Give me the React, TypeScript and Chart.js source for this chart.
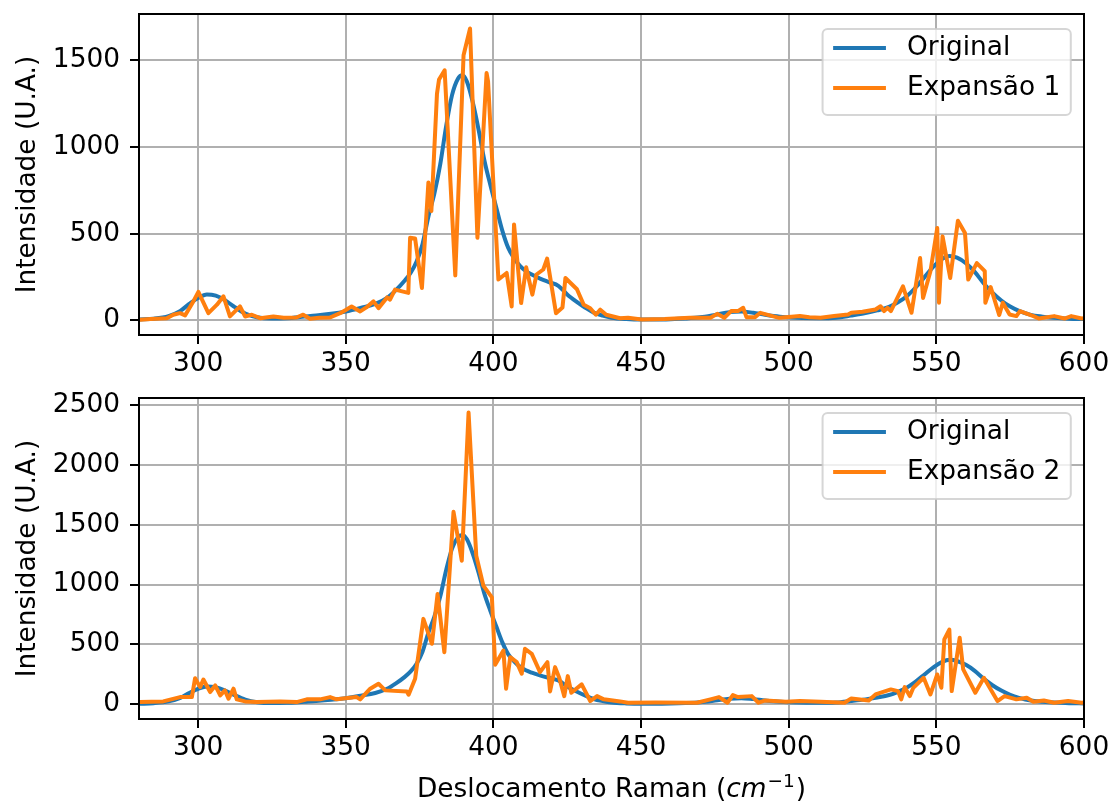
import React, { useEffect, useRef } from 'react';
import { Chart, registerables } from 'chart.js';

Chart.register(...registerables);

const FONT = '"DejaVu Sans", "Liberation Sans", sans-serif';
const FS = 26.4;

// Axis ticks
const xTicks = [300, 350, 400, 450, 500, 550, 600];
const yTicksTop = [0, 500, 1000, 1500];
const yTicksBottom = [0, 500, 1000, 1500, 2000, 2500];

// Labels
const yTitle = 'Intensidade (U.A.)';
const xTitleMain = 'Deslocamento Raman (';
const xTitleUnit = 'cm';
const xTitleExp = '−1';
const xTitleEnd = ')';
const legendTop = ['Original', 'Expansão 1'];
const legendBottom = ['Original', 'Expansão 2'];

// Original spectrum (blue)
const origX = [280, 285, 290, 294, 297, 300, 303, 306, 309, 312, 316, 320, 325, 330, 336, 340, 345, 350, 355, 360,
  364, 367, 370, 372, 374, 376, 378, 380, 382, 384, 386, 388, 389.5, 391, 393, 395, 397, 399, 401, 403,
  405, 407, 409, 411, 413, 416, 419, 422, 425, 428, 431, 434, 437, 440, 445, 450, 455, 460, 465, 470,
  475, 480, 484, 488, 492, 497, 503, 510, 516, 521, 526, 530, 534, 537, 540, 543, 546, 549, 552, 554.5,
  557, 560, 563, 566, 569, 572, 575, 578, 582, 586, 590, 595, 600];
const origY = [5, 10, 25, 55, 95, 130, 150, 143, 118, 82, 40, 18, 11, 13, 22, 28, 38, 52, 72, 95,
  130, 175, 230, 275, 340, 440, 600, 730, 900, 1120, 1300, 1395, 1415, 1380, 1260, 1100, 920, 780, 650, 520,
  420, 360, 315, 285, 265, 240, 220, 200, 150, 110, 75, 45, 28, 16, 8, 5, 5, 7, 11, 18,
  32, 48, 52, 44, 33, 22, 15, 13, 16, 28, 42, 58, 78, 105, 140, 190, 250, 310, 355, 372,
  362, 330, 280, 215, 160, 115, 80, 55, 32, 22, 15, 10, 8];

// Expansion 1 (orange, top)
const exp1X = [280.3, 284, 289.4, 291.6, 293.9, 295.6, 298.4, 300.1, 303.5, 306.4, 308.6, 310.8, 314.2, 315.9, 318.2, 321, 325.5, 329, 333.3, 335.6,
  337.9, 341, 344.7, 348.1, 350, 352, 354.9, 357, 359.4, 361.1, 364, 365, 366.7, 371.2, 371.8, 373.5, 375.8, 378, 379, 380.9,
  381.6, 383.5, 387.1, 389.9, 392.1, 394.6, 397.7, 398.2, 401.7, 404.5, 406.2, 407, 409.4, 411.1, 413.2, 414.6, 416.9, 418.2, 421.2, 423.4,
  424.4, 428.3, 430.6, 432.8, 434.7, 436.2, 438.2, 442.9, 445.6, 450.2, 458, 466.5, 473.5, 475.8, 478.2, 480.5, 482.8, 484.6, 485.7, 488.6,
  490.4, 494.5, 496.8, 500, 503.8, 507, 510.8, 515.4, 520.1, 521.2, 525, 529.4, 531.1, 532.3, 533.5, 534.6, 538.7, 541.6, 544.5, 545.5,
  548, 550.3, 550.9, 552.1, 554.7, 557.3, 559.7, 560.8, 563.7, 566.4, 566.6, 568.4, 571.3, 572.5, 574.8, 577.1, 578.3, 582.9, 584.7, 589.9,
  593.4, 595.7, 599.2, 600];
const exp1Y = [4, 8, 13, 33, 42, 29, 110, 165, 42, 91, 139, 23, 81, 23, 33, 13, 23, 15, 17, 33,
  10, 15, 17, 42, 60, 81, 52, 75, 110, 71, 133, 120, 178, 159, 477, 473, 187, 796, 631, 1307,
  1390, 1443, 260, 1530, 1684, 477, 1427, 1380, 236, 274, 81, 554, 100, 307, 149, 265, 294, 357, 42, 75,
  245, 180, 90, 70, 33, 62, 33, 13, 15, 6, 8, 15, 15, 38, 15, 54, 54, 73, 19, 19,
  44, 25, 15, 20, 25, 18, 15, 25, 34, 44, 50, 63, 82, 54, 73, 54, 197, 44, 360, 130,
  284, 533, 102, 485, 245, 575, 504, 236, 331, 284, 102, 192, 31, 102, 34, 25, 54, 25, 11, 25,
  11, 25, 11, 12];

// Expansion 2 (orange, bottom)
const exp2X = [280.3, 288.2, 293.9, 297.9, 299, 300.7, 301.8, 304.1, 305.8, 307.5, 309.1, 310.3, 312, 313.1, 315.9, 319.9, 327.8, 333.4, 336.8, 341.3,
  344.7, 346.9, 353.7, 354.9, 358.3, 361.1, 363.4, 370.7, 371.3, 373.5, 376.3, 379.2, 381.1, 383.4, 386.5, 389.3, 391.6, 394.2, 396.6, 399.5,
  400.6, 403.4, 404.3, 405.7, 407.9, 409.6, 410.7, 413, 415.8, 418.3, 419.2, 420.9, 422.3, 424, 425.2, 426.4, 429.9, 432.8, 435.1, 437.4,
  442.9, 445.6, 455, 468.9, 473.5, 476.4, 479.3, 481.1, 482.8, 487.5, 489.8, 492.1, 499.1, 503.8, 510.8, 518.9, 521.2, 527.1, 529.4, 534.6,
  537, 538.1, 539.3, 541, 542.2, 545.7, 548, 550.3, 551.7, 552.7, 554.4, 555.2, 557.9, 559.1, 563.2, 566.1, 570.7, 573.1, 577.1, 580.6,
  582.9, 586.4, 589.9, 594.6, 599.2, 600];
const exp2Y = [19, 25, 61, 61, 219, 144, 208, 103, 158, 75, 117, 47, 131, 42, 25, 19, 25, 19, 42, 42,
  61, 42, 61, 42, 131, 172, 117, 108, 81, 214, 714, 506, 922, 436, 1608, 1200, 2436, 1242, 992, 894,
  331, 450, 131, 394, 353, 256, 464, 422, 269, 353, 108, 311, 222, 69, 236, 97, 167, 28, 69, 42,
  25, 14, 15, 14, 42, 61, 14, 78, 61, 69, 14, 33, 22, 28, 22, 14, 50, 33, 83, 125,
  111, 42, 144, 69, 139, 222, 83, 250, 139, 542, 625, 111, 556, 292, 97, 222, 28, 69, 42, 56,
  22, 33, 14, 28, 14, 15];

const BLUE = '#1f77b4';
const ORANGE = '#ff7f0e';

const framePlugin = {
  id: 'frame',
  afterDatasetsDraw(chart: any) {
    const { ctx, chartArea: ca } = chart;
    ctx.save();
    ctx.strokeStyle = '#000';
    ctx.lineWidth = 2;
    ctx.strokeRect(ca.left, ca.top, ca.right - ca.left, ca.bottom - ca.top);
    ctx.restore();
  },
};

function legendPlugin(labels: string[]) {
  return {
    id: 'boxLegend',
    afterDraw(chart: any) {
      const { ctx, chartArea: ca } = chart;
      ctx.save();
      ctx.font = `${FS}px ${FONT}`;
      const tw = Math.max(...labels.map((l) => ctx.measureText(l).width));
      const bp = 0.4 * FS;
      const hl = 2 * FS;
      const htp = 0.8 * FS;
      const w = bp + hl + htp + tw + bp;
      const h = 86;
      const x0 = ca.right - 0.5 * FS - w;
      const y0 = ca.top + 15;
      ctx.beginPath();
      if ((ctx as any).roundRect) (ctx as any).roundRect(x0, y0, w, h, 5);
      else ctx.rect(x0, y0, w, h);
      ctx.fillStyle = 'rgba(255,255,255,0.8)';
      ctx.fill();
      ctx.strokeStyle = 'rgba(204,204,204,0.8)';
      ctx.lineWidth = 2;
      ctx.stroke();
      const colors = [BLUE, ORANGE];
      labels.forEach((lab, i) => {
        const cy = y0 + 19 + i * 40;
        ctx.beginPath();
        ctx.moveTo(x0 + bp, cy);
        ctx.lineTo(x0 + bp + hl, cy);
        ctx.strokeStyle = colors[i];
        ctx.lineWidth = 4;
        ctx.lineCap = 'butt';
        ctx.stroke();
        ctx.fillStyle = '#000';
        ctx.textAlign = 'left';
        ctx.textBaseline = 'middle';
        ctx.fillText(lab, x0 + bp + hl + htp, cy);
      });
      ctx.restore();
    },
  };
}

const xTitlePlugin = {
  id: 'xTitle',
  afterDraw(chart: any) {
    const { ctx, chartArea: ca } = chart;
    ctx.save();
    const normal = `${FS}px ${FONT}`;
    const italic = `italic ${FS}px ${FONT}`;
    const small = `${FS * 0.7}px ${FONT}`;
    ctx.font = normal;
    const w1 = ctx.measureText(xTitleMain).width;
    const w4 = ctx.measureText(xTitleEnd).width;
    ctx.font = italic;
    const w2 = ctx.measureText(xTitleUnit).width + 1;
    ctx.font = small;
    const w3 = ctx.measureText(xTitleExp).width + 1;
    const total = w1 + w2 + w3 + w4;
    let x = (ca.left + ca.right) / 2 - total / 2;
    const base = ca.bottom + 78;
    ctx.fillStyle = '#000';
    ctx.textAlign = 'left';
    ctx.textBaseline = 'alphabetic';
    ctx.font = normal;
    ctx.fillText(xTitleMain, x, base);
    x += w1;
    ctx.font = italic;
    ctx.fillText(xTitleUnit, x, base);
    x += w2;
    ctx.font = small;
    ctx.fillText(xTitleExp, x, base - 10);
    x += w3;
    ctx.font = normal;
    ctx.fillText(xTitleEnd, x, base);
    ctx.restore();
  },
};

function makeConfig(
  expX: number[], expY: number[], labels: string[], yTicks: number[],
  yMin: number, yMax: number, padTop: number, xHeight: number, extra: any[]
) {
  const zeroPad = (s: any) => {
    s.paddingLeft = 0; s.paddingRight = 0; s.paddingTop = 0; s.paddingBottom = 0;
  };
  return {
    type: 'line' as const,
    data: {
      datasets: [
        {
          label: labels[0],
          data: origX.map((x, i) => ({ x, y: origY[i] })),
          borderColor: BLUE,
          borderWidth: 4,
          pointRadius: 0,
          fill: false,
          order: 1,
          cubicInterpolationMode: 'monotone' as const,
          borderJoinStyle: 'round' as const,
        },
        {
          label: labels[1],
          data: expX.map((x, i) => ({ x, y: expY[i] })),
          borderColor: ORANGE,
          borderWidth: 4,
          pointRadius: 0,
          fill: false,
          order: 0,
          tension: 0,
          borderJoinStyle: 'round' as const,
        },
      ],
    },
    options: {
      responsive: false,
      animation: false as const,
      devicePixelRatio: 1,
      events: [],
      layout: { padding: { left: 0, right: 30, top: padTop, bottom: 0 } },
      plugins: { legend: { display: false }, tooltip: { enabled: false }, title: { display: false } },
      scales: {
        x: {
          type: 'linear' as const,
          min: 280,
          max: 600,
          afterBuildTicks: (s: any) => { s.ticks = xTicks.map((v) => ({ value: v })); },
          afterFit: (s: any) => { s.height = xHeight; zeroPad(s); },
          grid: { color: '#b0b0b0', lineWidth: 2, drawTicks: true, tickLength: 9, tickColor: '#000', tickWidth: 2 },
          border: { display: false },
          ticks: {
            color: '#000', font: { family: FONT, size: FS }, padding: 4,
            maxRotation: 0, minRotation: 0, autoSkip: false,
            callback: (v: any) => String(v),
          },
        },
        y: {
          type: 'linear' as const,
          min: yMin,
          max: yMax,
          afterBuildTicks: (s: any) => { s.ticks = yTicks.map((v) => ({ value: v })); },
          afterFit: (s: any) => { s.width = 139; zeroPad(s); },
          grid: { color: '#b0b0b0', lineWidth: 2, drawTicks: true, tickLength: 9, tickColor: '#000', tickWidth: 2 },
          border: { display: false },
          title: {
            display: true, text: yTitle, color: '#000',
            font: { family: FONT, size: FS }, padding: { top: 12.5, bottom: 0 },
          },
          ticks: {
            color: '#000', font: { family: FONT, size: FS }, padding: 10,
            autoSkip: false, callback: (v: any) => String(v),
          },
        },
      },
    },
    plugins: [framePlugin, legendPlugin(labels), ...extra],
  };
}

export default function App() {
  const topRef = useRef<HTMLCanvasElement | null>(null);
  const botRef = useRef<HTMLCanvasElement | null>(null);

  useEffect(() => {
    document.body.style.margin = '0';
    const c1 = new Chart(topRef.current as HTMLCanvasElement,
      makeConfig(exp1X, exp1Y, legendTop, yTicksTop, -84, 1768, 14, 45, []) as any);
    const c2 = new Chart(botRef.current as HTMLCanvasElement,
      makeConfig(exp2X, exp2Y, legendBottom, yTicksBottom, -122, 2558, 18, 86, [xTitlePlugin]) as any);
    return () => { c1.destroy(); c2.destroy(); };
  }, []);

  return (
    <div style={{ position: 'fixed', left: 0, top: 0, width: 1114, height: 805, background: '#fff' }}>
      <canvas ref={topRef} width={1114} height={380}
        style={{ position: 'absolute', left: 0, top: 0, width: 1114, height: 380 }} />
      <canvas ref={botRef} width={1114} height={425}
        style={{ position: 'absolute', left: 0, top: 380, width: 1114, height: 425 }} />
    </div>
  );
}
